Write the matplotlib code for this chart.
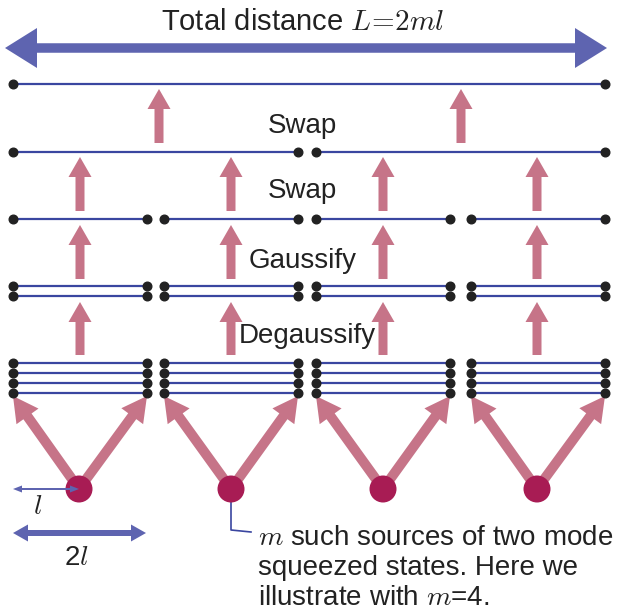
"""
Schematic: m two-mode squeezed sources merged by Degaussify / Gaussify / Swap
steps into one long link of total distance L = 2ml.
Drawn in pixel coordinates (y grows downward) on a frameless axes.
"""

import numpy as np
import matplotlib
matplotlib.use("Agg")
import matplotlib.pyplot as plt
from matplotlib.patches import FancyArrow, Circle

plt.rcParams["font.family"] = ["Liberation Sans", "DejaVu Sans"]
plt.rcParams["mathtext.fontset"] = "cm"

# ---- diagram content -------------------------------------------------------
seg_one = [(13, 605)]
seg_two = [(13, 298), (316, 605)]
seg_four = [(13, 147), (164, 298), (316, 450), (471, 605)]

# (segments, y of each parallel line) from top to bottom
rows = [
    (seg_one, [84]),
    (seg_two, [152]),
    (seg_four, [219]),
    (seg_four, [286, 296]),
    (seg_four, [363, 373, 383, 393]),
]

# upward step arrows: x positions, tail y, tip y
arrow_x_four = [80, 231, 383, 537]
arrow_x_two = [159, 461]
up_arrows = [
    (arrow_x_four, 355, 302),
    (arrow_x_four, 279, 225),
    (arrow_x_four, 211, 157),
    (arrow_x_two, 143, 89),
]

step_labels = ["Degaussify", "Gaussify", "Swap", "Swap"]
step_label_xy = [(307, 343), (303, 268), (302, 198), (302, 133)]

source_x = [79, 231, 383, 537]
source_y = 489
source_tip_y = 396

title = r"Total distance $L\!=\!2ml$"
note_lines = [r"$m$ such sources of two mode",
              "squeezed states. Here we",
              r"illustrate with $m$=4."]

# ---- colours ---------------------------------------------------------------
PINK = "#c67488"
LINE = "#3a46a0"
BIG = "#5e64b0"
SRC = "#a81c54"
DOT = "#222222"
TXT = "#222222"
FS = 20


def arrow(ax, x0, y0, x1, y1, width, hw, hl, color, z=2):
    ax.add_patch(FancyArrow(x0, y0, x1 - x0, y1 - y0, width=width, head_width=hw,
                            head_length=hl, length_includes_head=True,
                            color=color, lw=0, zorder=z))


def double_arrow(ax, x0, x1, y, width, hw, hl, color, z=2):
    # two arrows overlapping in the middle, each tail stops at the other's head
    arrow(ax, x0 + hl, y, x1, y, width, hw, hl, color, z)
    arrow(ax, x1 - hl, y, x0, y, width, hw, hl, color, z)


fig = plt.figure(figsize=(6.18, 6.14), dpi=100)
ax = fig.add_axes([0, 0, 1, 1])
ax.set_xlim(0, 618); ax.set_ylim(614, 0)
ax.axis("off")

# title + total distance arrow
ax.text(303, 30, title, fontsize=21, color=TXT, ha="center", va="baseline")
double_arrow(ax, 5, 607, 48, 9, 40, 32, BIG)

# link lines with end dots
for segs, ys in rows:
    for (xl, xr) in segs:
        for y in ys:
            ax.plot([xl, xr], [y, y], color=LINE, lw=1.6, zorder=3)
            ax.plot([xl, xr], [y, y], ls="none", marker="o", ms=6.2,
                    color=DOT, zorder=4)

# step arrows and their labels
for xs, y0, y1 in up_arrows:
    for x in xs:
        arrow(ax, x, y0, x, y1, 9, 23, 20, PINK)
for lab, (x, y) in zip(step_labels, step_label_xy):
    ax.text(x, y, lab, fontsize=FS, color=TXT, ha="center", va="baseline", zorder=5)

# sources and diagonal arrows to the ends of each 2l segment
for sx, (xl, xr) in zip(source_x, seg_four):
    arrow(ax, sx, source_y, xl, source_tip_y, 10, 27, 25, PINK)
    arrow(ax, sx, source_y, xr, source_tip_y, 10, 27, 25, PINK)
    ax.add_patch(Circle((sx, source_y), 13.5, color=SRC, lw=0, zorder=5))

# scale markers l and 2l
double_arrow(ax, 13, 79, source_y, 2, 7, 9, BIG, z=6)
ax.text(38, 514, r"$l$", fontsize=FS, color=TXT, ha="center", va="baseline")
double_arrow(ax, 13, 146, 533, 6, 17, 15, BIG)
ax.text(76, 565, r"2$l$", fontsize=FS, color=TXT, ha="center", va="baseline")

# callout from the second source to the note
ax.plot([source_x[1], source_x[1], 251], [source_y + 13, 530, 532], color=LINE, lw=1.2, zorder=4)
for i, line in enumerate(note_lines):
    ax.text(258, 545 + 30 * i, line, fontsize=FS, color=TXT, ha="left", va="baseline")

fig.savefig("out.png", dpi=100)
plt.close(fig)
